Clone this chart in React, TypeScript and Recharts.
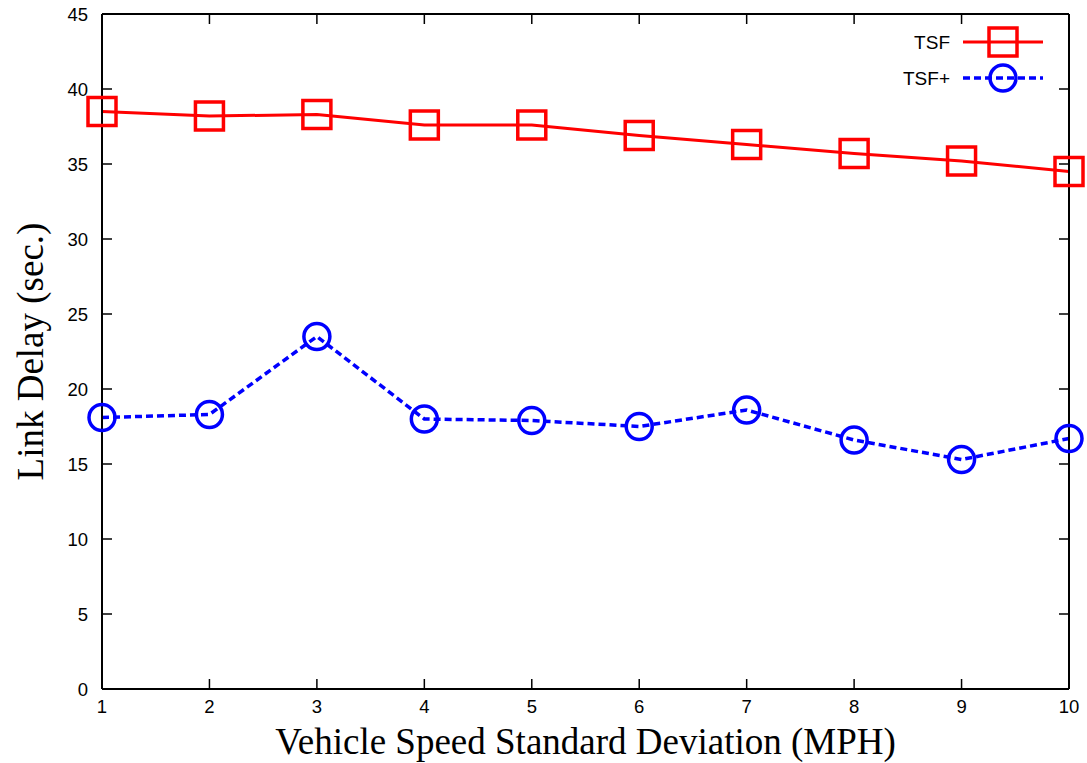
import { LineChart, Line, XAxis, YAxis } from "recharts";

const deviations = [1, 2, 3, 4, 5, 6, 7, 8, 9, 10];
const tsf = [38.5, 38.2, 38.3, 37.6, 37.6, 36.9, 36.3, 35.7, 35.2, 34.5];
const tsfPlus = [18.1, 18.3, 23.5, 18.0, 17.9, 17.5, 18.6, 16.6, 15.3, 16.7];
const yTicks = [0, 5, 10, 15, 20, 25, 30, 35, 40, 45];

const data = deviations.map((d, i) => ({ x: d, tsf: tsf[i], tsfPlus: tsfPlus[i] }));

const sans = "'Liberation Sans', Arial, Helvetica, sans-serif";
const serif = "'Liberation Serif', 'Times New Roman', serif";

const BottomTick = (props: any) => {
  const { x, y, payload } = props;
  return (
    <g>
      <line x1={x} x2={x} y1={y - 10} y2={y - 20} stroke="#000" strokeWidth={1.5} />
      <text x={x} y={y} dy="0.78em" textAnchor="middle" fontSize={18.5} fontFamily={sans} fill="#000">
        {payload.value}
      </text>
    </g>
  );
};

const LeftTick = (props: any) => {
  const { x, y, payload } = props;
  return (
    <g>
      <line x1={x + 14} x2={x + 24} y1={y} y2={y} stroke="#000" strokeWidth={1.5} />
      <text x={x} y={y} dy="0.36em" textAnchor="end" fontSize={18.5} fontFamily={sans} fill="#000">
        {payload.value}
      </text>
    </g>
  );
};

const TopTick = (props: any) => {
  const { x, y } = props;
  return <line x1={x} x2={x} y1={y} y2={y + 10} stroke="#000" strokeWidth={1.5} />;
};

const RightTick = (props: any) => {
  const { x, y } = props;
  return <line x1={x} x2={x - 10} y1={y} y2={y} stroke="#000" strokeWidth={1.5} />;
};

const SquareDot = (props: any) => {
  const { cx, cy } = props;
  return <rect x={cx - 14} y={cy - 14} width={28} height={28} fill="none" stroke="#ff0000" strokeWidth={3.5} />;
};

const CircleDot = (props: any) => {
  const { cx, cy } = props;
  return <circle cx={cx} cy={cy} r={13} fill="none" stroke="#0000ff" strokeWidth={3.5} />;
};

export default function App() {
  return (
    <div style={{ position: "absolute", left: 0, top: 0, width: 1087, height: 763, background: "#fff" }}>
      <LineChart width={1087} height={763} data={data} margin={{ top: 13, right: 17, bottom: 44, left: 42 }}>
        <XAxis
          xAxisId="bottom"
          dataKey="x"
          type="number"
          domain={[1, 10]}
          ticks={deviations}
          height={30}
          tickSize={0}
          tickMargin={10}
          tick={<BottomTick />}
          axisLine={{ stroke: "#000", strokeWidth: 2 }}
          label={{ value: "Vehicle Speed Standard Deviation (MPH)", position: "insideBottom", offset: -35, fontSize: 37, fontFamily: serif, fill: "#000" }}
        />
        <XAxis
          xAxisId="top"
          orientation="top"
          dataKey="x"
          type="number"
          domain={[1, 10]}
          ticks={deviations}
          height={1}
          tickSize={0}
          tickMargin={0}
          tick={<TopTick />}
          axisLine={{ stroke: "#000", strokeWidth: 2 }}
        />
        <YAxis
          yAxisId="left"
          domain={[0, 45]}
          ticks={yTicks}
          width={60}
          tickSize={0}
          tickMargin={14}
          tick={<LeftTick />}
          axisLine={{ stroke: "#000", strokeWidth: 2 }}
          label={{ value: "Link Delay (sec.)", angle: -90, position: "insideLeft", offset: -12, fontSize: 37, fontFamily: serif, fill: "#000", style: { textAnchor: "middle" } }}
        />
        <YAxis
          yAxisId="right"
          orientation="right"
          domain={[0, 45]}
          ticks={yTicks}
          width={1}
          tickSize={0}
          tickMargin={0}
          tick={<RightTick />}
          axisLine={{ stroke: "#000", strokeWidth: 2 }}
        />
        {/* invisible series so the mirrored frame axes get drawn */}
        <Line
          xAxisId="top"
          yAxisId="right"
          dataKey="tsf"
          stroke="none"
          dot={false}
          activeDot={false}
          legendType="none"
          isAnimationActive={false}
        />
        <Line
          xAxisId="bottom"
          yAxisId="left"
          type="linear"
          dataKey="tsf"
          stroke="#ff0000"
          strokeWidth={3}
          dot={<SquareDot />}
          activeDot={false}
          isAnimationActive={false}
        />
        <Line
          xAxisId="bottom"
          yAxisId="left"
          type="linear"
          dataKey="tsfPlus"
          stroke="#0000ff"
          strokeWidth={3.5}
          strokeDasharray="7 4"
          dot={<CircleDot />}
          activeDot={false}
          isAnimationActive={false}
        />
      </LineChart>
      <svg style={{ position: "absolute", left: 880, top: 20, overflow: "visible" }} width={180} height={80}>
        <text x={70} y={22} dy="0.36em" textAnchor="end" fontSize={19} fontFamily={sans} fill="#000">TSF</text>
        <line x1={83} x2={163} y1={22} y2={22} stroke="#ff0000" strokeWidth={3} />
        <rect x={109} y={8} width={28} height={28} fill="none" stroke="#ff0000" strokeWidth={3.5} />
        <text x={70} y={58} dy="0.36em" textAnchor="end" fontSize={19} fontFamily={sans} fill="#000">TSF+</text>
        <line x1={83} x2={163} y1={58} y2={58} stroke="#0000ff" strokeWidth={3.5} strokeDasharray="7 4" />
        <circle cx={123} cy={58} r={13} fill="none" stroke="#0000ff" strokeWidth={3.5} />
      </svg>
    </div>
  );
}
